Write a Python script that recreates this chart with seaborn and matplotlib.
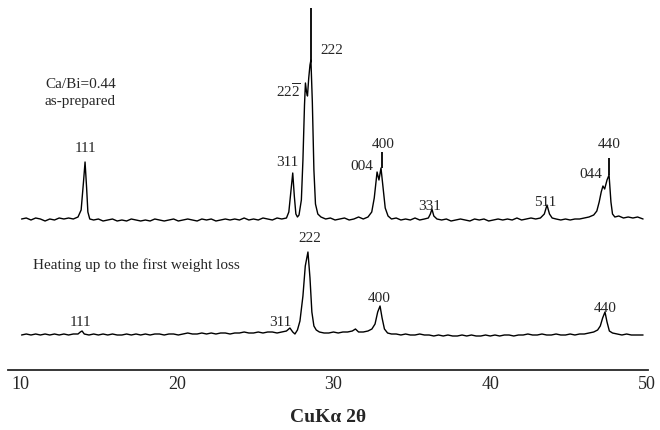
import matplotlib
matplotlib.use("Agg")
import matplotlib.pyplot as plt
import seaborn as sns

# XRD scans, (2theta, intensity above own baseline)
top_scan = [
    (10.1, 1), (10.4, 2), (10.7, 0), (11.0, 2), (11.3, 1), (11.6, -1), (11.9, 1), (12.2, 0),
    (12.5, 2), (12.8, 1), (13.1, 2), (13.4, 1), (13.7, 3), (13.9, 10), (14.05, 38), (14.15, 58),
    (14.25, 32), (14.33, 8), (14.45, 1), (14.7, 0), (15.0, 1), (15.3, -1), (15.6, 0), (15.9, 1),
    (16.2, -1), (16.5, 0), (16.8, -1), (17.1, 1), (17.4, 0), (17.7, -1), (18.0, 0), (18.3, -1),
    (18.6, 1), (18.9, 0), (19.2, -1), (19.5, 0), (19.8, 1), (20.1, -1), (20.4, 0), (20.7, 1),
    (21.0, 0), (21.3, -1), (21.6, 1), (21.9, 0), (22.2, 1), (22.5, -1), (22.8, 0), (23.1, 1),
    (23.4, 0), (23.7, 1), (24.0, 0), (24.3, 2), (24.6, 0), (24.9, 1), (25.2, 0), (25.5, 2),
    (25.8, 1), (26.1, 0), (26.4, 2), (26.7, 1), (27.0, 2), (27.15, 8), (27.3, 32), (27.4, 47),
    (27.5, 24), (27.6, 6), (27.7, 3), (27.8, 5), (27.95, 20), (28.05, 60), (28.15, 115),
    (28.21, 137), (28.28, 128), (28.34, 124), (28.42, 142), (28.5, 155), (28.56, 160),
    (28.65, 118), (28.75, 50), (28.85, 16), (29.0, 6), (29.2, 3), (29.5, 1), (29.8, 2),
    (30.1, 0), (30.4, 1), (30.7, 2), (31.0, 0), (31.3, 1), (31.6, 3), (31.9, 1), (32.2, 3),
    (32.44, 8), (32.6, 22), (32.72, 40), (32.78, 48), (32.9, 40), (33.03, 52), (33.15, 34),
    (33.3, 12), (33.48, 4), (33.7, 1), (34.0, 2), (34.3, 0), (34.6, 1), (34.9, 0), (35.2, 2),
    (35.5, 0), (35.8, 1), (36.05, 2), (36.18, 6), (36.28, 11), (36.4, 4), (36.6, 1), (36.9, 0),
    (37.2, 1), (37.5, -1), (37.8, 0), (38.1, 1), (38.4, 0), (38.7, -1), (39.0, 1), (39.3, 0),
    (39.6, 1), (39.9, -1), (40.2, 0), (40.5, 1), (40.8, 0), (41.1, 1), (41.4, 0), (41.7, 2),
    (42.0, 0), (42.3, 1), (42.6, 2), (42.9, 1), (43.2, 2), (43.45, 6), (43.62, 15), (43.78, 6),
    (43.95, 2), (44.2, 1), (44.5, 0), (44.8, 1), (45.1, 0), (45.4, 1), (45.7, 1), (46.0, 2),
    (46.3, 3), (46.6, 5), (46.8, 9), (46.95, 18), (47.08, 28), (47.19, 34), (47.3, 31),
    (47.45, 40), (47.58, 45), (47.7, 18), (47.8, 6), (47.95, 3), (48.2, 4), (48.5, 2),
    (48.8, 3), (49.1, 2), (49.4, 3), (49.75, 1),
]

bottom_scan = [
    (10.1, 1), (10.4, 2), (10.7, 1), (11.0, 2), (11.3, 1), (11.6, 2), (11.9, 1), (12.2, 2),
    (12.5, 1), (12.8, 2), (13.1, 1), (13.4, 2), (13.7, 2), (13.85, 4), (13.96, 5), (14.1, 2),
    (14.4, 1), (14.7, 2), (15.0, 1), (15.3, 2), (15.6, 1), (15.9, 2), (16.2, 1), (16.5, 1),
    (16.8, 2), (17.1, 1), (17.4, 2), (17.7, 1), (18.0, 2), (18.3, 1), (18.6, 2), (18.9, 2),
    (19.2, 1), (19.5, 2), (19.8, 2), (20.1, 1), (20.4, 2), (20.7, 3), (21.0, 2), (21.3, 2),
    (21.6, 3), (21.9, 2), (22.2, 3), (22.5, 2), (22.8, 3), (23.1, 3), (23.4, 2), (23.7, 3),
    (24.0, 3), (24.3, 4), (24.6, 3), (24.9, 3), (25.2, 4), (25.5, 3), (25.8, 4), (26.1, 4),
    (26.4, 3), (26.7, 4), (27.0, 5), (27.22, 8), (27.4, 4), (27.54, 2), (27.7, 6), (27.86, 15),
    (28.05, 40), (28.2, 70), (28.37, 84), (28.5, 58), (28.62, 24), (28.75, 10), (28.9, 6),
    (29.1, 4), (29.4, 3), (29.7, 3), (30.0, 4), (30.3, 3), (30.6, 4), (30.9, 4), (31.2, 5),
    (31.4, 7), (31.6, 4), (31.9, 4), (32.2, 5), (32.45, 7), (32.65, 12), (32.82, 24),
    (32.97, 30), (33.1, 18), (33.25, 7), (33.45, 3), (33.7, 2), (34.0, 2), (34.3, 1), (34.6, 2),
    (34.9, 1), (35.2, 1), (35.5, 2), (35.8, 1), (36.1, 1), (36.4, 0), (36.7, 1), (37.0, 0),
    (37.3, 1), (37.6, 0), (37.9, 0), (38.2, 1), (38.5, 0), (38.8, 1), (39.1, 0), (39.4, 0),
    (39.7, 1), (40.0, 0), (40.3, 1), (40.6, 0), (40.9, 1), (41.2, 1), (41.5, 0), (41.8, 1),
    (42.1, 1), (42.4, 2), (42.7, 1), (43.0, 1), (43.3, 2), (43.6, 1), (43.9, 1), (44.2, 2),
    (44.5, 1), (44.8, 1), (45.1, 2), (45.4, 1), (45.7, 2), (46.0, 2), (46.3, 3), (46.6, 4),
    (46.85, 6), (47.02, 10), (47.17, 18), (47.32, 24), (47.45, 14), (47.6, 5), (47.8, 3),
    (48.1, 2), (48.4, 1), (48.7, 2), (49.0, 1), (49.3, 1), (49.75, 1),
]

# peak marker lines above the as-prepared scan: position, from, to
marker_pos = [28.56, 33.08, 47.58]
marker_low = [160, 52, 45]
marker_high = [212, 68, 62]

# hkl labels (2theta, height above baseline)
top_hkl = ["111", "311", r"$\mathrm{22\overline{2}}$", "222", "004", "400", "331", "511",
           "044", "440"]
top_hkl_x = [14.15, 27.07, 27.1, 29.14, 31.79, 33.19, 36.16, 43.49, 46.4, 47.61]
top_hkl_y = [71, 57, 128, 170, 53, 75, 14, 17, 45, 75]
bottom_hkl = ["111", "311", "222", "400", "440"]
bottom_hkl_x = [13.89, 26.59, 28.5, 32.93, 47.32]
bottom_hkl_y = [14, 14, 97, 38, 28]

xticks = [10, 20, 30, 40, 50]

top_base = 150
bottom_base = 34

sns.set_style("white")
plt.rcParams["font.family"] = ["Liberation Serif", "DejaVu Serif"]
plt.rcParams["mathtext.fontset"] = "custom"
plt.rcParams["mathtext.rm"] = "Liberation Serif"

fig = plt.figure(figsize=(6.6, 4.3), dpi=100)
ax = fig.add_axes([0, 0, 1, 1])

tt_top, i_top = zip(*top_scan)
tt_bot, i_bot = zip(*bottom_scan)
sns.lineplot(x=list(tt_top), y=[v + top_base for v in i_top], color="black",
             lw=1.0, ax=ax, estimator=None, sort=False)
sns.lineplot(x=list(tt_bot), y=[v + bottom_base for v in i_bot], color="black",
             lw=1.0, ax=ax, estimator=None, sort=False)
ax.vlines(marker_pos, [v + top_base for v in marker_low],
          [v + top_base for v in marker_high], color="black", lw=1.3)

for lab, x, y in zip(top_hkl, top_hkl_x, top_hkl_y):
    ha = "left" if lab == "222" else "center"
    ax.text(x, y + top_base, lab, ha=ha, va="center", fontsize=11)
for lab, x, y in zip(bottom_hkl, bottom_hkl_x, bottom_hkl_y):
    ax.text(x, y + bottom_base, lab, ha="center", va="center", fontsize=11)

ax.text(11.59, 285, "Ca/Bi=0.44", ha="left", va="center", fontsize=11)
ax.text(11.59, 269, "as-prepared", ha="left", va="center", fontsize=11)
ax.text(10.83, 105, "Heating up to the first weight loss", ha="left", va="center",
        fontsize=11)
ax.text(29.65, -48, "CuK\u03b1 2\u03b8", ha="center", va="center", fontsize=14,
        fontweight="bold")

ax.set_xlim(8.724, 50.83)
ax.set_ylim(-60, 370)
for side in ["top", "right", "left"]:
    ax.spines[side].set_visible(False)
ax.spines["bottom"].set_position(("data", 0))
ax.spines["bottom"].set_bounds(9.23, 50.06)
ax.spines["bottom"].set_linewidth(1.3)
ax.set_yticks([])
ax.set_xticks(xticks)
ax.set_xticklabels([str(t) for t in xticks])
ax.tick_params(axis="x", direction="in", length=6, width=1.6, pad=4, labelsize=13)
ax.set_xlabel("")
ax.set_ylabel("")

plt.savefig("out.png", dpi=100)
plt.close()
